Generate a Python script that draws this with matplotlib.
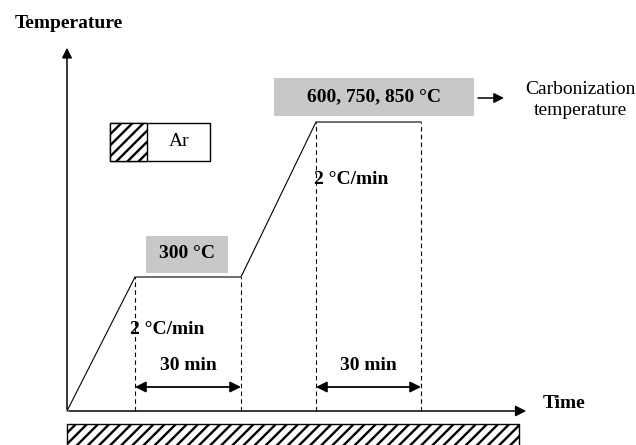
import matplotlib.pyplot as plt
from matplotlib.patches import Rectangle

plt.rcParams["font.family"] = "Liberation Serif"
plt.rcParams["hatch.linewidth"] = 1.7

# schematic heating profile (arbitrary time / temperature units)
profile_time = [0, 68, 174, 249, 354]
profile_temp = [0, 134, 134, 289, 289]
hold_labels = ["30 min", "30 min"]
ramp_labels = ["2 °C/min", "2 °C/min"]
plateau_labels = ["300 °C", "600, 750, 850 °C"]

fig = plt.figure(figsize=(6.36, 4.45), dpi=100)
ax = fig.add_axes([0, 0, 1, 1])
ax.set_xlim(-67, 569)
ax.set_ylim(-34, 411)
ax.axis("off")

# axes arrows
ax.annotate("", xy=(0, 366), xytext=(0, -1),
            arrowprops=dict(arrowstyle="-|>", color="black", lw=1.1, mutation_scale=15))
ax.annotate("", xy=(462, 0), xytext=(-1, 0),
            arrowprops=dict(arrowstyle="-|>", color="black", lw=1.1, mutation_scale=16))
ax.text(2, 388, "Temperature", ha="center", va="center", fontsize=14, fontweight="bold")
ax.text(476, 7, "Time", ha="left", va="center", fontsize=14, fontweight="bold")

# profile
ax.plot(profile_time, profile_temp, color="black", lw=0.8)
for t, T in zip(profile_time[1:], profile_temp[1:]):
    ax.plot([t, t], [0, T], color="black", lw=0.8, ls=(0, (4, 3)))

# hold durations
for i, lab in enumerate(hold_labels):
    t0, t1 = profile_time[2 * i + 1], profile_time[2 * i + 2]
    ax.annotate("", xy=(t1, 24), xytext=(t0, 24),
                arrowprops=dict(arrowstyle="<|-|>", color="black", lw=1.3,
                                mutation_scale=16, shrinkA=0, shrinkB=0))
    ax.text((t0 + t1) / 2, 45, lab, ha="center", va="center", fontsize=14, fontweight="bold")

# ramp rates
ax.text(100, 82, ramp_labels[0], ha="center", va="center", fontsize=14, fontweight="bold")
ax.text(284, 231, ramp_labels[1], ha="center", va="center", fontsize=14, fontweight="bold")

# plateau boxes
ax.add_patch(Rectangle((79, 138), 82, 37, facecolor="#c8c8c8", edgecolor="none"))
ax.text(120, 157, plateau_labels[0], ha="center", va="center", fontsize=14, fontweight="bold")
ax.add_patch(Rectangle((207, 295), 200, 38, facecolor="#c8c8c8", edgecolor="none"))
ax.text(307, 314, plateau_labels[1], ha="center", va="center", fontsize=14, fontweight="bold")

ax.annotate("", xy=(437, 313), xytext=(411, 313),
            arrowprops=dict(arrowstyle="-|>", color="black", lw=1.1,
                            mutation_scale=15, shrinkA=0, shrinkB=0))
ax.text(513, 311, "Carbonization\ntemperature", ha="center", va="center",
        fontsize=14, linespacing=1.3)

# Ar legend box
ax.add_patch(Rectangle((43, 250), 100, 38, facecolor="white", edgecolor="black", lw=1.0))
ax.add_patch(Rectangle((43, 250), 37, 38, facecolor="white", edgecolor="black",
                       lw=1.0, hatch="///"))
ax.text(112, 270, "Ar", ha="center", va="center", fontsize=14)

# atmosphere bar under the time axis
ax.add_patch(Rectangle((0, -40), 452, 27, facecolor="white", edgecolor="black",
                       lw=1.0, hatch="///"))

fig.savefig("out.png", dpi=100)
